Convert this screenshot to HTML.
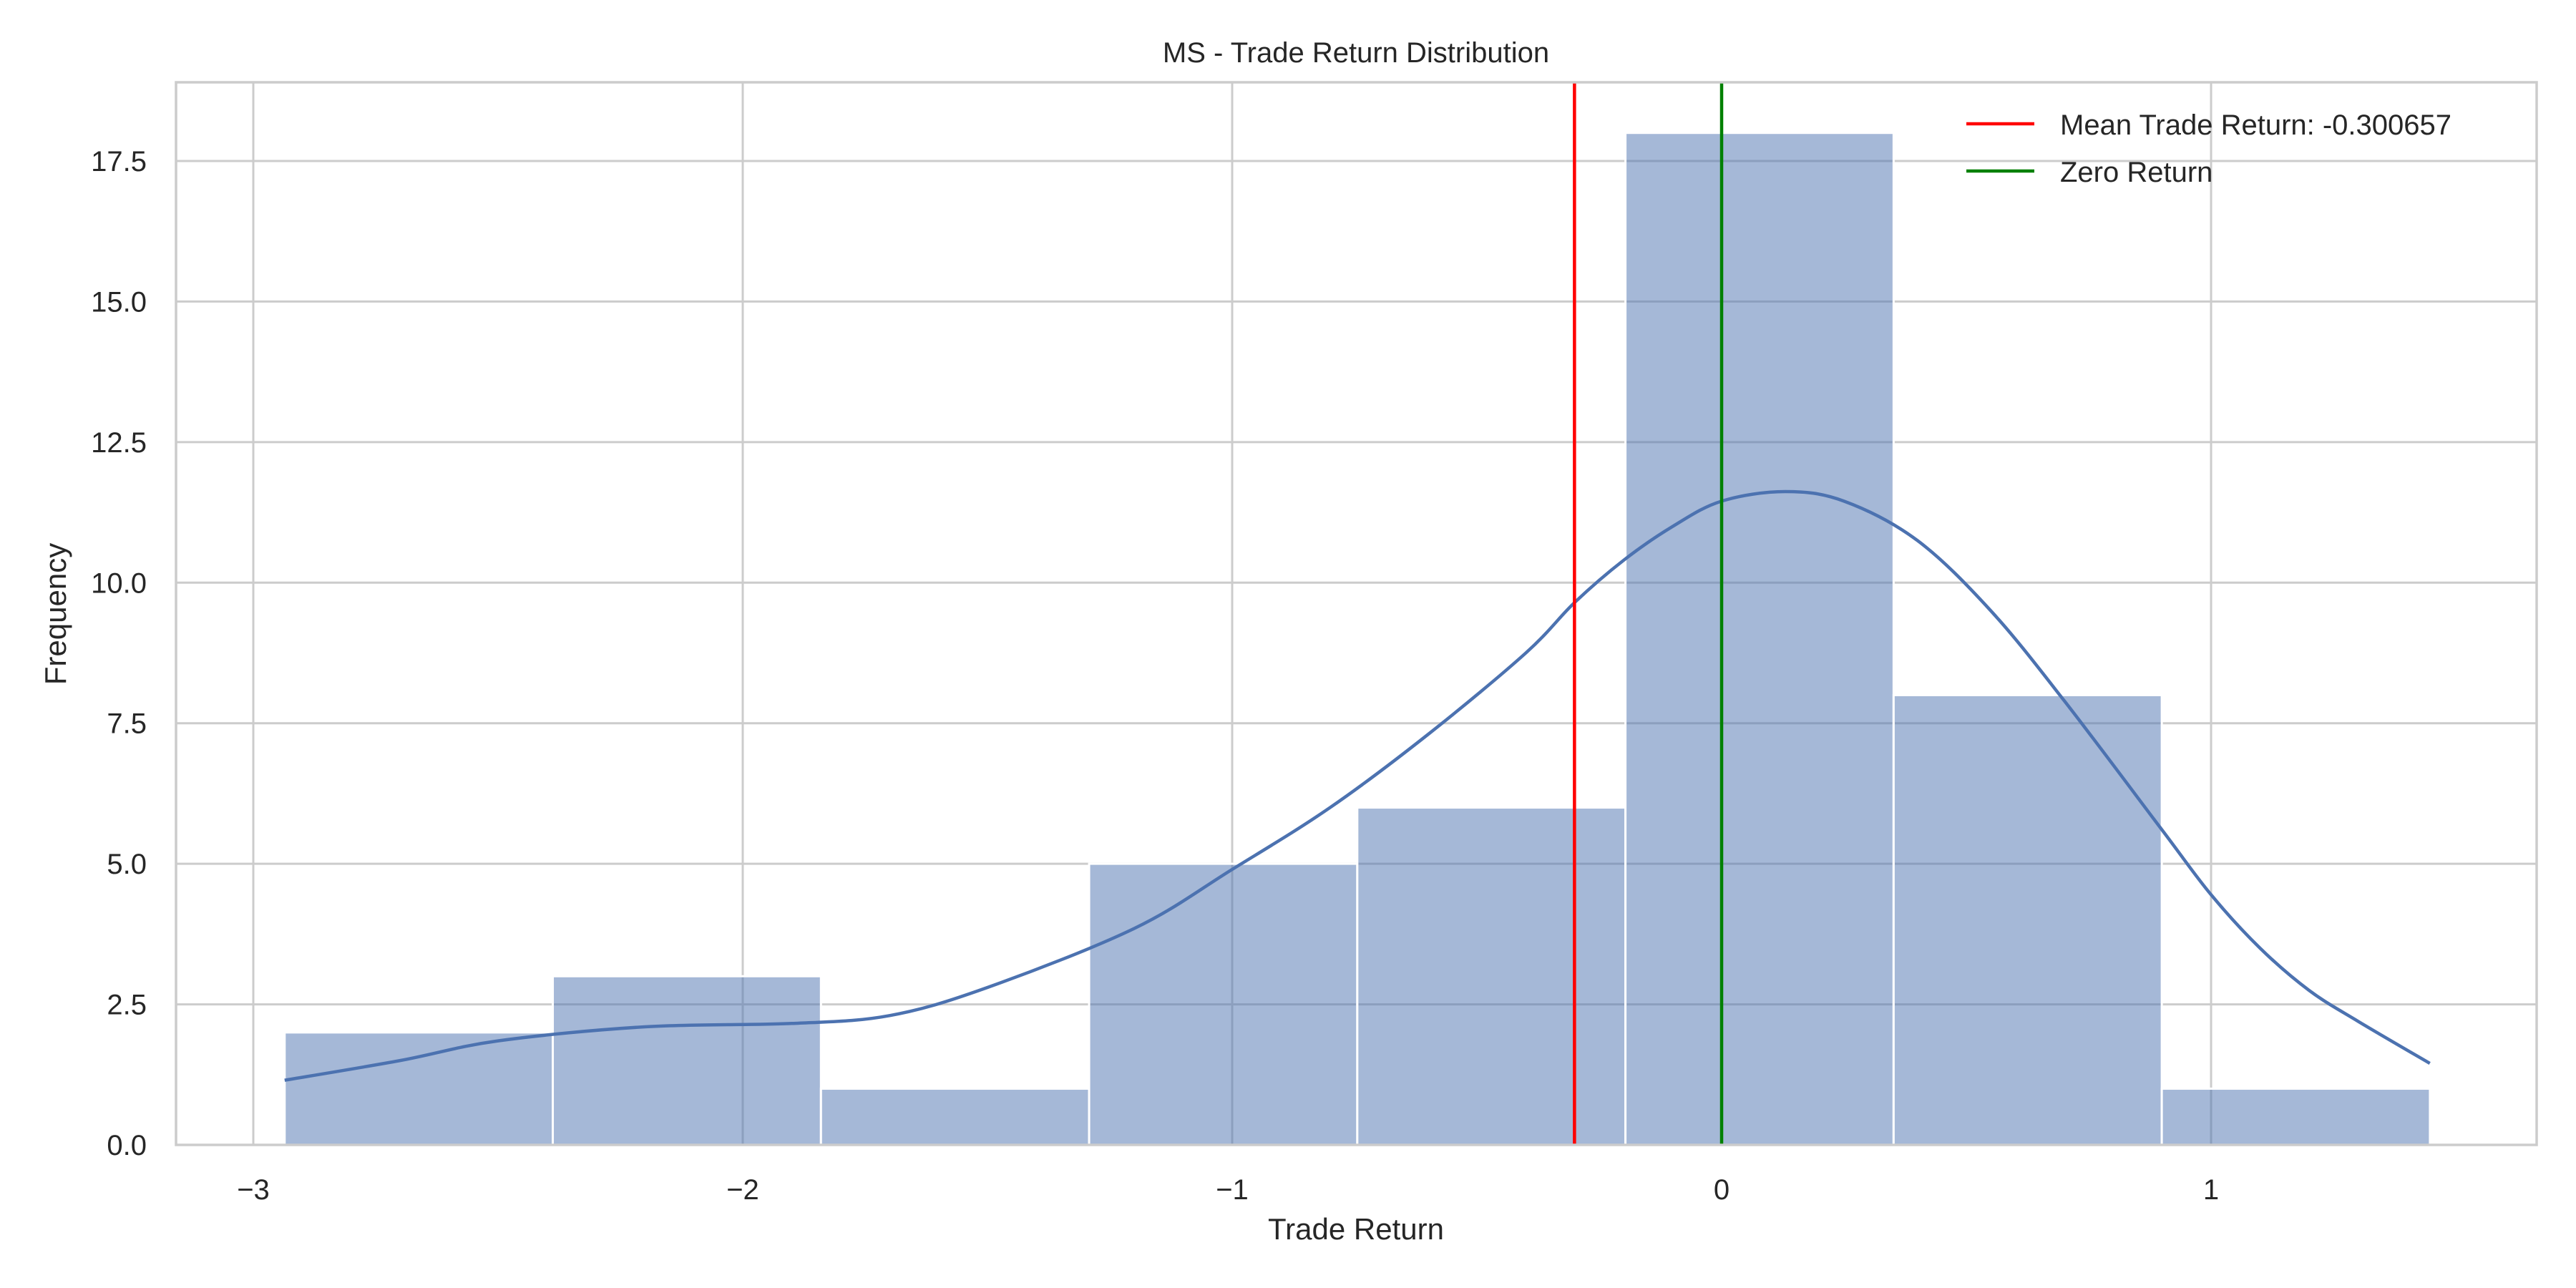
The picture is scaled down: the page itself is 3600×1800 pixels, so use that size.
<!DOCTYPE html>
<html><head><meta charset="utf-8"><style>
html,body{margin:0;padding:0;background:#fff;}
svg{display:block;font-family:"Liberation Sans",sans-serif;}
</style></head><body>
<svg id="chart" width="3600" height="1800" viewBox="0 0 3600 1800" xmlns="http://www.w3.org/2000/svg">
<rect width="3600" height="1800" fill="#fff"/>
<g id="grid"></g>
<g id="bars"></g>
<g id="kde"></g>
<g id="vlines"></g>
<g id="axes"></g>
<text x="1895" y="87" font-size="40" text-anchor="middle" fill="#262626">MS - Trade Return Distribution</text>
<text x="1895" y="1732" font-size="42" text-anchor="middle" fill="#262626">Trade Return</text>
<text x="92" y="858" font-size="42" text-anchor="middle" fill="#262626" transform="rotate(-90 92 858)">Frequency</text>
<g>
<line x1="2748" y1="173" x2="2843" y2="173" stroke="#ff0000" stroke-width="4.5"/>
<text x="2879" y="188" font-size="40" fill="#262626">Mean Trade Return: -0.300657</text>
<line x1="2748" y1="239" x2="2843" y2="239" stroke="#008000" stroke-width="4.5"/>
<text x="2879" y="254" font-size="40" fill="#262626">Zero Return</text>
</g>
</svg>
<script>
const binStart = -2.936;
const binWidth = 0.5479;
const counts = [2, 3, 1, 5, 6, 18, 8, 1];
const kdeX = [-2.936, -2.7, -2.5, -2.2, -1.9, -1.7, -1.5, -1.2, -1.0, -0.8, -0.6, -0.4, -0.3, -0.2, -0.1, 0.0, 0.13, 0.25, 0.4, 0.55, 0.7, 0.9, 1.0, 1.1, 1.2, 1.3, 1.447];
const kdeY = [1.15, 1.5, 1.85, 2.1, 2.16, 2.3, 2.8, 3.85, 4.9, 6.0, 7.3, 8.75, 9.65, 10.4, 11.0, 11.45, 11.62, 11.45, 10.75, 9.5, 7.9, 5.6, 4.45, 3.5, 2.75, 2.2, 1.45];
const meanValue = -0.300657;
const zeroValue = 0;
const xTicks = [-3, -2, -1, 0, 1];
const xTickLabels = ["\u22123", "\u22122", "\u22121", "0", "1"];
const yTicks = [0, 2.5, 5, 7.5, 10, 12.5, 15, 17.5];
const yTickLabels = ["0.0", "2.5", "5.0", "7.5", "10.0", "12.5", "15.0", "17.5"];

const L = 246, R = 3545, T = 115, B = 1600;
const X = v => 2406 + 684 * v;
const Y = v => B - (B - 225) / 17.5 * v;
const NS = "http://www.w3.org/2000/svg";
function mk(tag, parent, attrs) {
  const e = document.createElementNS(NS, tag);
  for (const k in attrs) e.setAttribute(k, attrs[k]);
  document.getElementById(parent).appendChild(e);
  return e;
}
xTicks.forEach((t, i) => {
  const g = mk('line', 'grid', {x1: X(t), x2: X(t), y1: T, y2: B, stroke: '#cccccc', 'stroke-width': 3});
  
  
  const tx = mk('text', 'axes', {x: X(t), y: 1676, 'font-size': 40, 'text-anchor': 'middle', fill: '#262626'});
  tx.textContent = xTickLabels[i];
  
  
});
yTicks.forEach((t, i) => {
  const g = mk('line', 'grid', {x1: L, x2: R, y1: Y(t), y2: Y(t), stroke: '#cccccc', 'stroke-width': 3});
  
  
  const tx = mk('text', 'axes', {x: 205, y: Y(t) + 14, 'font-size': 40, 'text-anchor': 'end', fill: '#262626'});
  tx.textContent = yTickLabels[i];
  
  
});
counts.forEach((c, i) => {
  const x0 = X(binStart + i * binWidth), x1 = X(binStart + (i + 1) * binWidth);
  const b = mk('rect', 'bars', {x: x0, y: Y(c), width: x1 - x0, height: Y(0) - Y(c), fill: 'rgba(76,114,176,0.5)', stroke: '#fff', 'stroke-width': 3});
  
  
});
const pts = kdeX.map((v, i) => [X(v), Y(kdeY[i])]);
let d = `M${pts[0][0]},${pts[0][1]}`;
for (let i = 0; i < pts.length - 1; i++) {
  const p0 = pts[Math.max(0, i - 1)], p1 = pts[i], p2 = pts[i + 1], p3 = pts[Math.min(pts.length - 1, i + 2)];
  const c1 = [p1[0] + (p2[0] - p0[0]) / 6, p1[1] + (p2[1] - p0[1]) / 6];
  const c2 = [p2[0] - (p3[0] - p1[0]) / 6, p2[1] - (p3[1] - p1[1]) / 6];
  d += ` C${c1[0]},${c1[1]} ${c2[0]},${c2[1]} ${p2[0]},${p2[1]}`;
}
const k = mk('path', 'kde', {d: d, fill: 'none', stroke: '#4c72b0', 'stroke-width': 4.5});


const m = mk('line', 'vlines', {x1: X(meanValue), x2: X(meanValue), y1: T, y2: B, stroke: '#ff0000', 'stroke-width': 4.5});


const z = mk('line', 'vlines', {x1: X(zeroValue), x2: X(zeroValue), y1: T, y2: B, stroke: '#008000', 'stroke-width': 4.5});


const fr = mk('rect', 'axes', {x: L, y: T, width: R - L, height: B - T, fill: 'none', stroke: '#cccccc', 'stroke-width': 3.5});


</script>
</body></html>
